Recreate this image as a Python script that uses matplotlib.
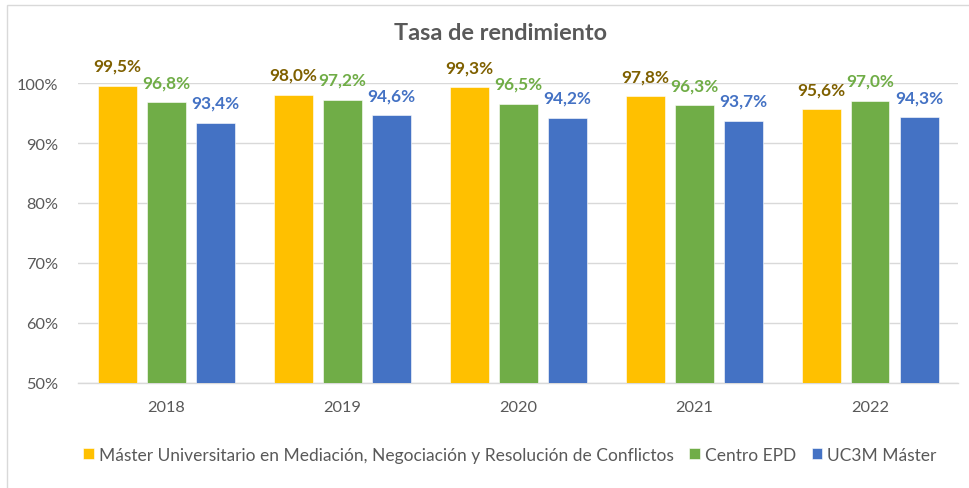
import matplotlib
matplotlib.use("Agg")
import matplotlib.pyplot as plt
import numpy as np
from matplotlib.patches import Rectangle

plt.rcParams['font.family'] = ['Lato', 'DejaVu Sans']

years = ["2018", "2019", "2020", "2021", "2022"]
series_names = ["Máster Universitario en Mediación, Negociación y Resolución de Conflictos",
                "Centro EPD", "UC3M Máster"]
master = [99.5, 98.0, 99.3, 97.8, 95.6]
centro = [96.8, 97.2, 96.5, 96.3, 97.0]
uc3m = [93.4, 94.6, 94.2, 93.7, 94.3]
yticks = [50, 60, 70, 80, 90, 100]

bar_colors = ["#FFC000", "#70AD47", "#4472C4"]
label_colors = ["#7F6000", "#70AD47", "#4472C4"]

fig = plt.figure(figsize=(9.69, 4.89), dpi=100)
ax = fig.add_axes([78/969, 1-384/489, (958-78)/969, 300/489])

# chart border
fig.patches.append(Rectangle((7/969, -0.05), 1.2, 1-6/489+0.05, transform=fig.transFigure,
                             fill=False, edgecolor="#D9D9D9", linewidth=1.0))

x = np.arange(len(years))
w = 39/176
off = 49/176
for i, vals in enumerate([master, centro, uc3m]):
    pos = x + (i-1)*off
    bars = ax.bar(pos, vals, width=w, color=bar_colors[i], label=series_names[i],
                  edgecolor="white", linewidth=0.4, zorder=3)
    for xp, v in zip(pos, vals):
        ax.annotate(f"{v:.1f}%".replace(".", ","), (xp, v), xytext=(0, 14.5),
                    textcoords="offset points", ha="center", va="center",
                    fontsize=12.4, fontweight="bold", color=label_colors[i],
                    clip_on=False, zorder=4)

ax.set_xlim(-0.5, 4.5)
ax.set_ylim(50, 100)
ax.set_yticks(yticks)
ax.set_yticklabels([f"{t}%" for t in yticks])
ax.set_xticks(x)
ax.set_xticklabels(years)
ax.grid(axis="y", color="#D9D9D9", linewidth=1.0, zorder=0)
ax.set_axisbelow(True)
for s in ["left", "right", "top"]:
    ax.spines[s].set_visible(False)
ax.spines["bottom"].set_color("#D9D9D9")
ax.spines["bottom"].set_linewidth(1.0)
ax.tick_params(axis="both", length=0, labelsize=11.8, labelcolor="#595959")
ax.tick_params(axis="y", pad=14)
ax.tick_params(axis="x", pad=12)

fig.text(500/969, 1-33/489, "Tasa de rendimiento", ha="center", va="center",
         fontsize=16.9, fontweight="bold", color="#595959")

leg = fig.legend(loc="center", bbox_to_anchor=(510/969, 1-456/489), ncol=3, frameon=False,
                 handlelength=0.6, handleheight=0.6, handletextpad=0.3, columnspacing=0.9,
                 fontsize=12.5)
for t in leg.get_texts():
    t.set_color("#595959")

fig.savefig("out.png", dpi=100)
